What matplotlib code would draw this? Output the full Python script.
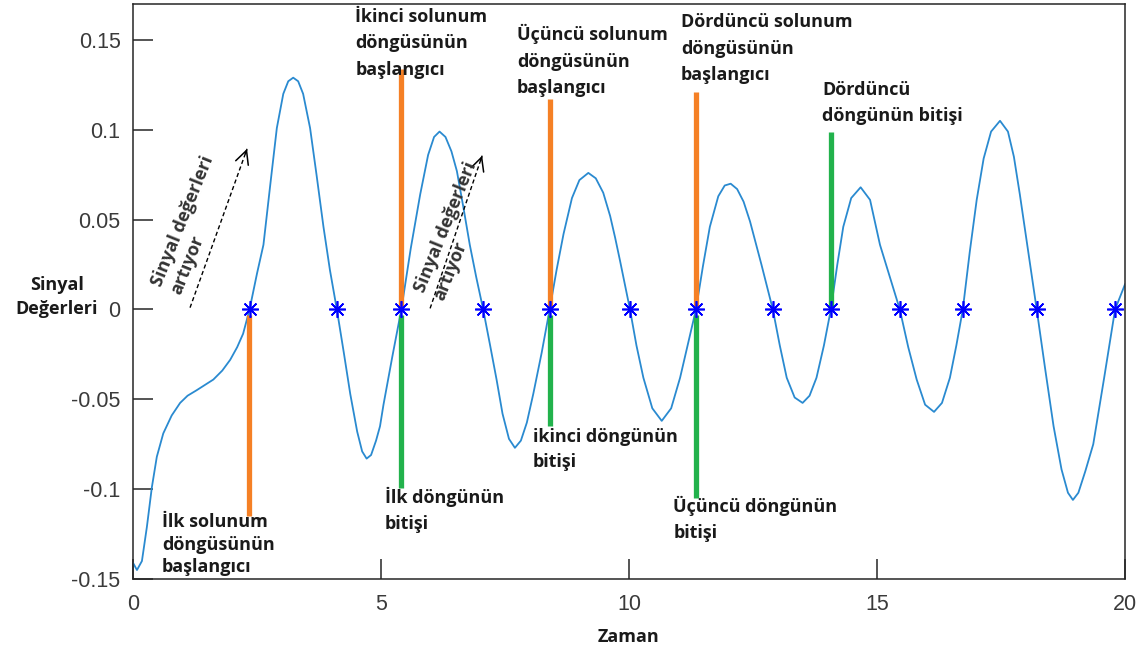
import matplotlib
matplotlib.use('Agg')
import matplotlib.pyplot as plt

# sinyal egrisi (zaman, deger) - resimden okunan noktalar
t = [0.0, 0.08, 0.18, 0.28, 0.38, 0.48, 0.61, 0.78, 0.95, 1.1, 1.28, 1.45, 1.62, 1.8, 1.96, 2.1, 2.22, 2.35,
     2.5, 2.63, 2.77, 2.9, 3.03, 3.13, 3.23, 3.33, 3.43, 3.57, 3.7, 3.84, 3.97, 4.11,
     4.25, 4.38, 4.52, 4.62, 4.71, 4.8, 4.9, 4.98, 5.05, 5.23, 5.41,
     5.6, 5.79, 5.95, 6.07, 6.18, 6.3, 6.42, 6.53, 6.66, 6.79, 6.92, 7.06,
     7.2, 7.33, 7.45, 7.58, 7.7, 7.82, 7.94, 8.07, 8.24, 8.4,
     8.54, 8.68, 8.85, 9.0, 9.18, 9.33, 9.48, 9.62, 9.72, 9.82, 10.02,
     10.15, 10.29, 10.47, 10.66, 10.85, 11.03, 11.19, 11.35,
     11.49, 11.63, 11.8, 11.93, 12.05, 12.18, 12.31, 12.44, 12.67, 12.9,
     13.04, 13.18, 13.34, 13.5, 13.64, 13.78, 13.93, 14.07,
     14.2, 14.32, 14.48, 14.67, 14.86, 15.06, 15.26, 15.46,
     15.63, 15.8, 15.97, 16.15, 16.31, 16.47, 16.6, 16.73,
     16.87, 17.01, 17.15, 17.3, 17.48, 17.64, 17.76, 17.88, 18.05, 18.22,
     18.39, 18.56, 18.72, 18.85, 18.95, 19.06, 19.2, 19.36, 19.58, 19.8, 20.0]
sinyal = [-0.141, -0.145, -0.14, -0.121, -0.099, -0.082, -0.069, -0.059, -0.052, -0.048, -0.045, -0.042, -0.039, -0.034, -0.028, -0.021, -0.0135, 0.0,
          0.02, 0.036, 0.07, 0.101, 0.12, 0.127, 0.129, 0.127, 0.12, 0.101, 0.075, 0.046, 0.022, 0.0,
          -0.024, -0.047, -0.068, -0.079, -0.083, -0.081, -0.073, -0.065, -0.053, -0.026, 0.0,
          0.034, 0.064, 0.086, 0.096, 0.099, 0.096, 0.088, 0.077, 0.057, 0.036, 0.018, 0.0,
          -0.02, -0.039, -0.058, -0.072, -0.077, -0.073, -0.063, -0.047, -0.024, 0.0,
          0.022, 0.042, 0.062, 0.072, 0.076, 0.073, 0.065, 0.052, 0.04, 0.027, 0.0,
          -0.02, -0.038, -0.055, -0.062, -0.055, -0.038, -0.019, 0.0,
          0.024, 0.046, 0.063, 0.069, 0.07, 0.067, 0.06, 0.049, 0.025, 0.0,
          -0.02, -0.038, -0.049, -0.052, -0.048, -0.038, -0.02, 0.0,
          0.025, 0.046, 0.062, 0.068, 0.061, 0.036, 0.018, 0.0,
          -0.021, -0.039, -0.053, -0.057, -0.052, -0.038, -0.02, 0.0,
          0.032, 0.061, 0.084, 0.099, 0.105, 0.099, 0.085, 0.064, 0.032, 0.0,
          -0.033, -0.065, -0.089, -0.102, -0.106, -0.102, -0.09, -0.075, -0.038, 0.0, 0.014]

# sifir gecisleri
sifir_t = [2.35, 4.11, 5.41, 7.06, 8.4, 10.02, 11.35, 12.9, 14.07, 15.46, 16.73, 18.22, 19.8]
sifir_y = [0, 0, 0, 0, 0, 0, 0, 0, 0, 0, 0, 0, 0]

# solunum dongusu baslangici (turuncu) ve bitisi (yesil) cizgileri
bas_t = [2.33, 5.41, 8.4, 11.35]
bas_alt = [-0.115, 0.0, 0.0, 0.0]
bas_ust = [-0.003, 0.134, 0.117, 0.121]
bit_t = [5.41, 8.4, 11.35, 14.07]
bit_alt = [-0.0995, -0.065, -0.105, 0.0]
bit_ust = [-0.003, -0.003, -0.003, 0.099]

yticks = [-0.15, -0.1, -0.05, 0, 0.05, 0.1, 0.15]
ytick_labels = ['-0.15', '-0.1', '-0.05', '0', '0.05', '0.1', '0.15']
xticks = [0, 5, 10, 15, 20]

# aciklama metinleri, sol ust kose konumu ve satir araligi
notlar = [('İlk solunum\ndöngüsünün\nbaşlangıcı', 0.58, -0.1135, 1.3),
          ('İkinci solunum\ndöngüsünün\nbaşlangıcı', 4.48, 0.168, 1.62),
          ('Üçüncü solunum\ndöngüsünün\nbaşlangıcı', 7.74, 0.159, 1.62),
          ('Dördüncü solunum\ndöngüsünün\nbaşlangıcı', 11.05, 0.165, 1.62),
          ('İlk döngünün\nbitişi', 5.08, -0.0985, 1.62),
          ('ikinci döngünün\nbitişi', 8.06, -0.066, 1.5),
          ('Üçüncü döngünün\nbitişi', 10.89, -0.104, 1.5),
          ('Dördüncü\ndöngünün bitişi', 13.89, 0.127, 1.58)]

# oklar (kuyruk, bas) ve egik yazilar
oklar = [((1.15, 0.001), (2.3, 0.0894)), ((5.99, 0.0006), (7.04, 0.0856))]
ok_yazi = [(1.19, 0.047), (6.5, 0.0435)]

fig = plt.figure(figsize=(11.46, 6.53), dpi=100)
ax = fig.add_axes([133 / 1146, 74 / 653, 992 / 1146, 575 / 653])

ax.plot(t, sinyal, color='#2a8ad0', lw=1.3, zorder=2)
ax.vlines(bas_t, bas_alt, bas_ust, colors='#f58025', lw=3.8, zorder=3)
ax.vlines(bit_t, bit_alt, bit_ust, colors='#22b24c', lw=3.8, zorder=3)
ax.plot(sifir_t, sifir_y, ls='none', marker=(8, 2, 0), ms=12, mew=1.2, color='#0000ff', zorder=4)

yaz = dict(family='Open Sans', weight='bold', fontsize=13, color='#1a1a1a')
for metin, x, y, ls in notlar:
    ax.text(x, y, metin, ha='left', va='top', linespacing=ls, **yaz)

for (kuyruk, bas), (yx, yy) in zip(oklar, ok_yazi):
    ax.plot([kuyruk[0], bas[0]], [kuyruk[1], bas[1]], color='black', lw=1, ls=(0, (3, 2)))
    ax.annotate('', xy=bas, xytext=(bas[0] - 0.03 * (bas[0] - kuyruk[0]), bas[1] - 0.03 * (bas[1] - kuyruk[1])),
                arrowprops=dict(arrowstyle='->', lw=1.1, color='black', shrinkA=0, shrinkB=0, mutation_scale=24))
    ax.text(yx, yy, 'Sinyal değerleri\nartıyor', rotation=68, rotation_mode='anchor',
            ha='center', va='center', multialignment='left', linespacing=1.2,
            family='Open Sans', weight='bold', fontsize=13, color='#333333')

ax.set_xlim(0, 20)
ax.set_ylim(-0.15, 0.17)
ax.set_xticks(xticks)
ax.set_xticklabels([str(v) for v in xticks])
ax.set_yticks(yticks)
ax.set_yticklabels(ytick_labels)
for s in ax.spines.values():
    s.set_linewidth(1.1)
    s.set_color('#262626')
ax.tick_params(direction='in', length=14.5, width=1.1, color='#262626',
               labelsize=15.5, labelcolor='#3a3a3a')
ax.tick_params(axis='y', pad=9)
ax.tick_params(axis='x', pad=11)
for lab in ax.get_xticklabels() + ax.get_yticklabels():
    lab.set_family('Liberation Sans')

ax.set_xlabel('Zaman', family='Open Sans', weight='bold', fontsize=13, color='#1a1a1a', labelpad=9)
ax.text(-0.077, 0.4904, 'Sinyal\nDeğerleri', transform=ax.transAxes,
        ha='center', va='center', multialignment='center', linespacing=1.38, **yaz)

fig.savefig('out.png', dpi=100)
